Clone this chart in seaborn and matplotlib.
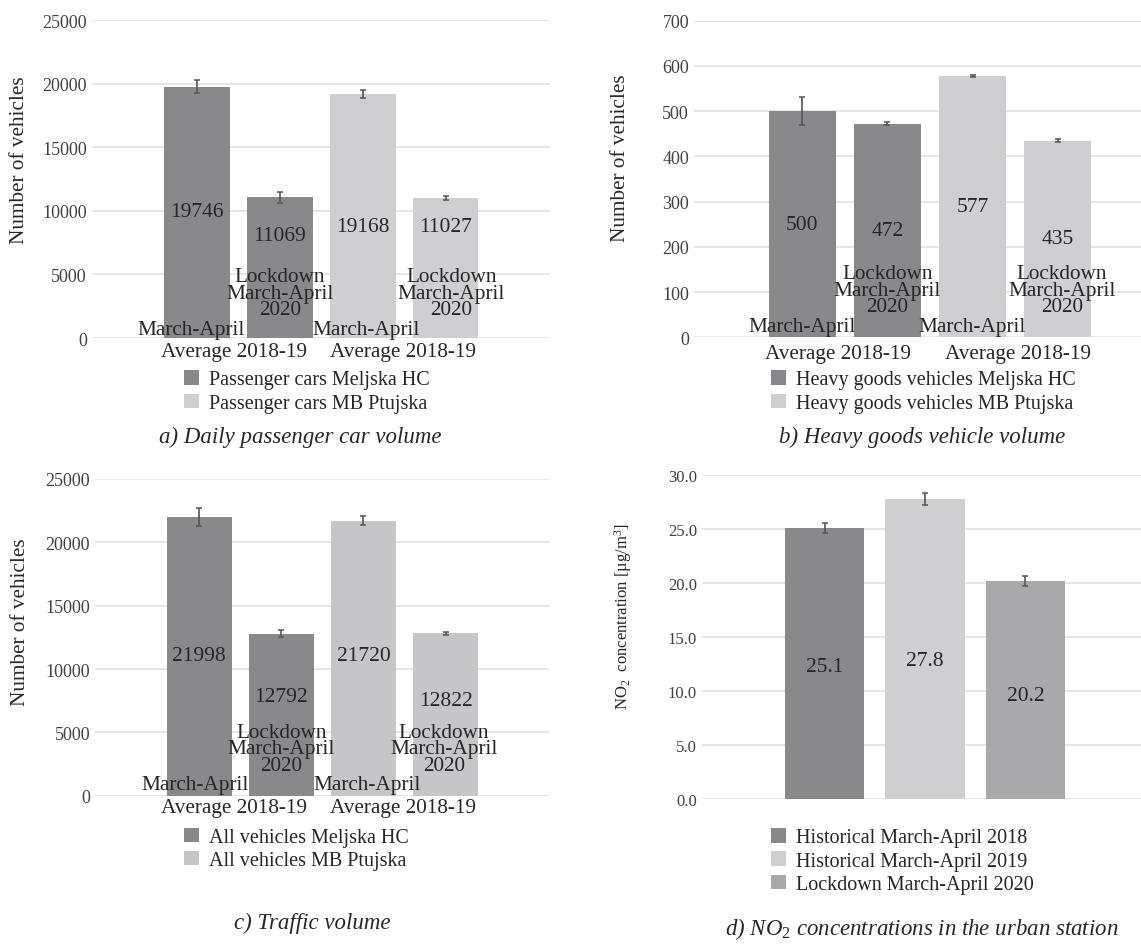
import matplotlib
matplotlib.use("Agg")
import matplotlib.pyplot as plt
from matplotlib.patches import Patch
import seaborn as sns
import pandas as pd

# ---------------- data ----------------
bar_ids = ["M-avg", "M-lock", "P-avg", "P-lock"]
bar_periods = ["avg", "lock", "avg", "lock"]

car_series = ["Passenger cars Meljska HC", "Passenger cars Meljska HC",
              "Passenger cars MB Ptujska", "Passenger cars MB Ptujska"]
car_values = [19746, 11069, 19168, 11027]
car_errors = [500, 420, 300, 150]

hgv_series = ["Heavy goods vehicles Meljska HC", "Heavy goods vehicles Meljska HC",
              "Heavy goods vehicles MB Ptujska", "Heavy goods vehicles MB Ptujska"]
hgv_values = [500, 472, 577, 435]
hgv_errors = [31, 3, 2, 4]

all_series = ["All vehicles Meljska HC", "All vehicles Meljska HC",
              "All vehicles MB Ptujska", "All vehicles MB Ptujska"]
all_values = [21998, 12792, 21720, 12822]
all_errors = [690, 250, 330, 100]

no2_periods = ["Historical March-April 2018", "Historical March-April 2019",
               "Lockdown March-April 2020"]
no2_values = [25.1, 27.8, 20.2]
no2_errors = [0.45, 0.55, 0.45]

avg_top_text = "March-April"
avg_bottom_text = "Average 2018-19"
lock_text = "Lockdown\nMarch-April\n2020"

# ---------------- style ----------------
sns.set_theme(style="white")
plt.rcParams["font.family"] = ["Liberation Serif", "DejaVu Serif"]
plt.rcParams["mathtext.fontset"] = "custom"
plt.rcParams["mathtext.rm"] = "Liberation Serif"
plt.rcParams["mathtext.it"] = "Liberation Serif:italic"

DARK = "#88888c"
LIGHT = "#cfcfd1"
LIGHT_C = "#c6c6c8"
MID = "#a9a9ac"
TXT = "#262626"
TICK = "#404040"
GRID = "#e6e6e6"

W, H = 1141, 945
fig = plt.figure(figsize=(W / 100, H / 100), dpi=100)
fig.patch.set_facecolor("white")


def rect(left, top, right, bottom):
    return [left / W, 1 - bottom / H, (right - left) / W, (bottom - top) / H]


def fpt(x, y):
    return (x / W, 1 - y / H)


PX = 0.72  # points per pixel at 100 dpi


def style_axes(ax, ymax, step, fmt, tick_size):
    ax.set_ylim(0, ymax)
    ticks = [i * step for i in range(int(round(ymax / step)) + 1)]
    ax.set_yticks(ticks)
    ax.set_yticklabels([fmt.format(t) for t in ticks], fontsize=tick_size, color=TICK)
    ax.tick_params(axis="y", length=0, pad=5 * PX)
    ax.set_xticks([])
    ax.set_xlabel("")
    for s in ax.spines.values():
        s.set_visible(False)
    ax.grid(axis="y", color=GRID, linewidth=1.4)
    ax.set_axisbelow(True)
    ax.set_facecolor("white")


def bar_centers(ax):
    return sorted(p.get_x() + p.get_width() / 2 for p in ax.patches)


def draw_errors(ax, values, errors):
    xs = bar_centers(ax)
    ax.errorbar(xs, values, yerr=errors, fmt="none", ecolor="#555555",
                elinewidth=1.2, capsize=2.2, capthick=1.1, zorder=5)
    return xs


def add_legend(ax, labels, colors, x_px, y_center_px):
    handles = [Patch(facecolor=c, edgecolor="none") for c in colors]
    ax.legend(handles, labels, loc="center left",
              bbox_to_anchor=fpt(x_px, y_center_px), bbox_transform=fig.transFigure,
              frameon=False, fontsize=14.5, handlelength=0.72, handleheight=0.72,
              handletextpad=0.5, labelspacing=0.2, borderpad=0, borderaxespad=0,
              labelcolor=TXT)


def vehicle_panel(ax, series, values, errors, label_heights, colors, ymax, step,
                  offs, legend_pos, ylabel_pos):
    df = pd.DataFrame({"bar": bar_ids, "value": values, "series": series})
    sns.barplot(data=df, x="bar", y="value", hue="series", dodge=False,
                palette=colors, width=0.79, errorbar=None, legend=False,
                linewidth=0, ax=ax)
    style_axes(ax, ymax, step, "{:d}", 13)
    xs = draw_errors(ax, values, errors)
    ax.set_xlim(-1.27, 4.26)
    # value labels inside the bars
    for x, v, h in zip(xs, values, label_heights):
        ax.text(x, h, f"{v}", ha="center", va="center", fontsize=15.5, color=TXT)
    # category labels
    k = 0
    for x, per in zip(xs, bar_periods):
        if per == "avg":
            ax.annotate(avg_top_text, xy=(x + offs["top_dx"][k], 0), xycoords="data",
                        xytext=(0, offs["up"] * PX), textcoords="offset points",
                        ha="center", va="center", fontsize=15.3, color=TXT,
                        annotation_clip=False)
            ax.annotate(avg_bottom_text, xy=(x + offs["bot_dx"][k], 0), xycoords="data",
                        xytext=(0, -offs["down"] * PX), textcoords="offset points",
                        ha="center", va="center", fontsize=15.3, color=TXT,
                        annotation_clip=False)
        else:
            ax.annotate(lock_text, xy=(x + offs["lock_dx"][k], 0), xycoords="data",
                        xytext=(0, offs["lock_up"] * PX), textcoords="offset points",
                        ha="center", va="center", fontsize=15.3, color=TXT,
                        linespacing=0.82, annotation_clip=False)
            k += 1
    ax.set_ylabel("Number of vehicles", fontsize=15.3, color=TXT)
    ax.yaxis.set_label_coords(*ylabel_pos)
    ax.yaxis.label.set_va("center")
    uniq = list(dict.fromkeys(series))
    add_legend(ax, uniq, [colors[u] for u in uniq], *legend_pos)


# ---- a) passenger cars ----
ax_a = fig.add_axes(rect(92, 21, 550, 339))
vehicle_panel(ax_a, car_series, car_values, car_errors,
              [9980, 8020, 8730, 8800],
              {car_series[0]: DARK, car_series[2]: LIGHT}, 25000, 5000,
              dict(top_dx=[-0.07, 0.04], bot_dx=[0.44, 0.49], lock_dx=[0.0, 0.07],
                   up=9, down=13, lock_up=45),
              (184, 392.5), (-0.158, 0.563))
fig.text(*fpt(300, 437), "a) Daily passenger car volume", ha="center", va="center",
         fontsize=16.5, style="italic", color=TXT)

# ---- b) heavy goods vehicles ----
ax_b = fig.add_axes(rect(694, 21.7, 1165, 338.3))
vehicle_panel(ax_b, hgv_series, hgv_values, hgv_errors,
              [250, 236, 289, 218],
              {hgv_series[0]: DARK, hgv_series[2]: LIGHT}, 700, 100,
              dict(top_dx=[0.0, 0.0], bot_dx=[0.42, 0.53], lock_dx=[0.0, 0.05],
                   up=11, down=16, lock_up=47),
              (771, 392.5), (-0.155, 0.568))
fig.text(*fpt(922, 437), "b) Heavy goods vehicle volume", ha="center", va="center",
         fontsize=16.5, style="italic", color=TXT)

# ---- c) all vehicles ----
ax_c = fig.add_axes(rect(95, 480, 549, 796.7))
vehicle_panel(ax_c, all_series, all_values, all_errors,
              [11100, 7860, 11100, 7500],
              {all_series[0]: DARK, all_series[2]: LIGHT_C}, 25000, 5000,
              dict(top_dx=[-0.05, 0.05], bot_dx=[0.42, 0.48], lock_dx=[0.0, -0.02],
                   up=11, down=12, lock_up=47),
              (184, 850), (-0.165, 0.55))
fig.text(*fpt(312, 923), "c) Traffic volume", ha="center", va="center",
         fontsize=16.5, style="italic", color=TXT)

# ---- d) NO2 concentrations ----
ax_d = fig.add_axes(rect(702, 476, 1145, 800))
no2_colors = dict(zip(no2_periods, [DARK, LIGHT, MID]))
df_d = pd.DataFrame({"period": no2_periods, "value": no2_values})
sns.barplot(data=df_d, x="period", y="value", hue="period", palette=no2_colors,
            width=0.79, errorbar=None, legend=False, linewidth=0, ax=ax_d)
style_axes(ax_d, 30, 5, "{:.1f}", 12)
xs_d = draw_errors(ax_d, no2_values, no2_errors)
ax_d.set_xlim(-1.22, 3.19)
for x, v, h in zip(xs_d, no2_values, [12.3, 12.8, 9.6]):
    ax_d.text(x, h, f"{v:.1f}", ha="center", va="center", fontsize=15.5, color=TXT)
ax_d.set_ylabel(r"NO$_2$  concentration [µg/m$^3$]", fontsize=12, color=TXT)
ax_d.yaxis.set_label_coords(-0.178, 0.566)
ax_d.yaxis.label.set_va("center")
add_legend(ax_d, no2_periods, [no2_colors[p] for p in no2_periods], 771, 862)
fig.text(*fpt(922, 929), r"d) NO$_2$ concentrations in the urban station",
         ha="center", va="center", fontsize=16.5, style="italic", color=TXT)

fig.savefig("out.png", dpi=100, facecolor="white")
